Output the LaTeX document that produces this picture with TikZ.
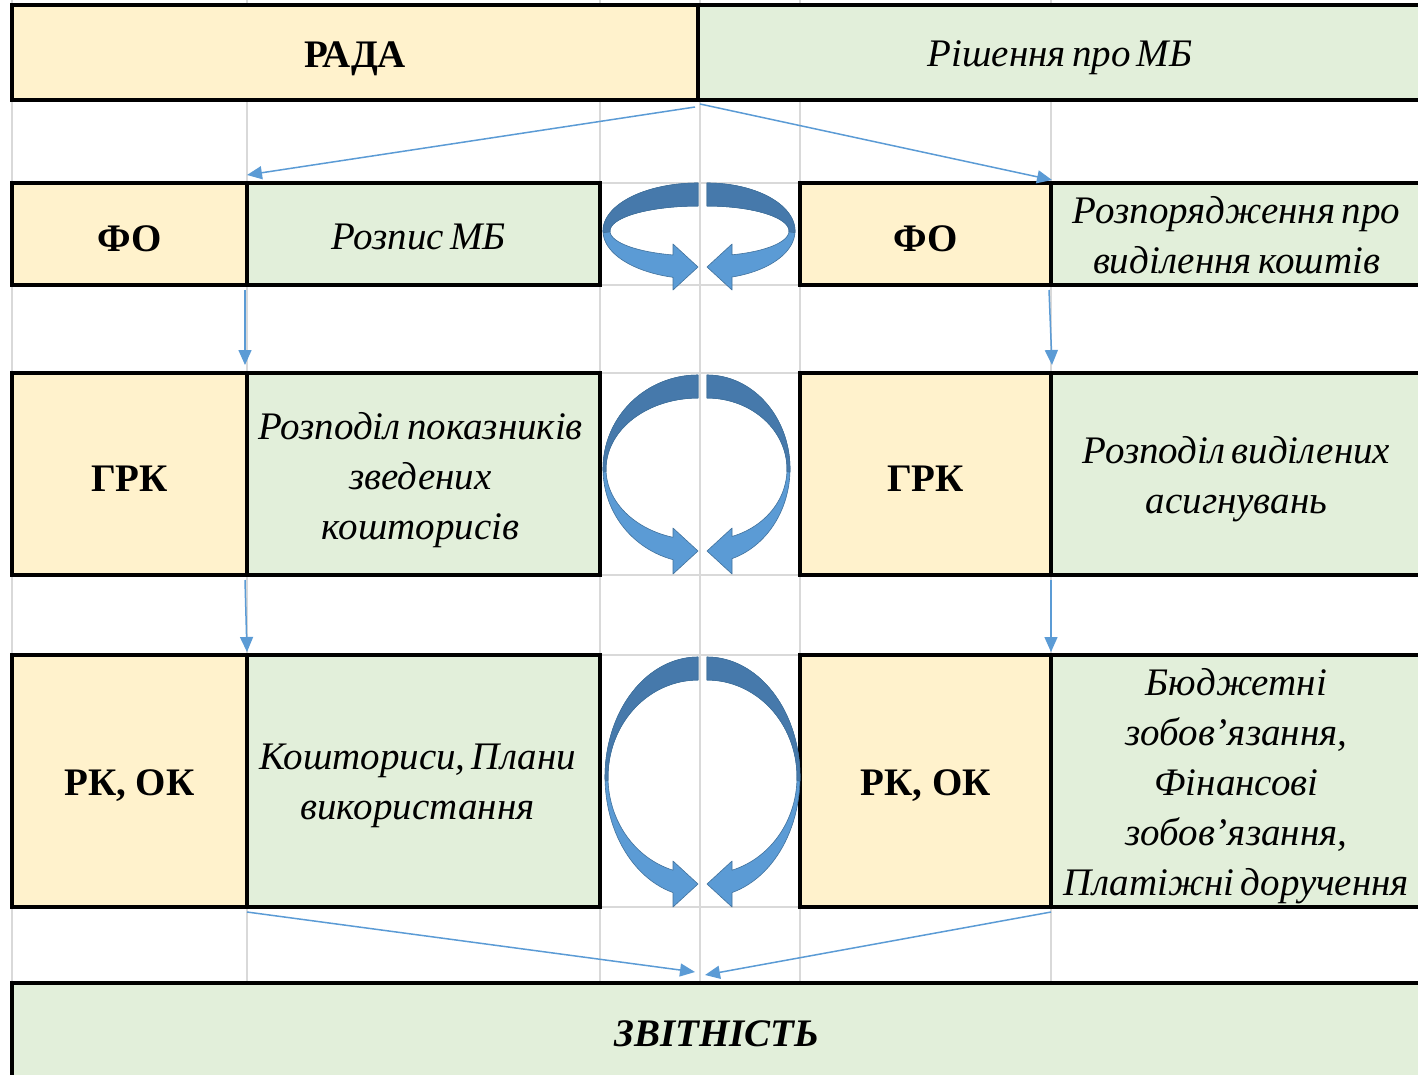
\documentclass[tikz,border=0pt]{standalone}
\usepackage{fontspec}
\setmainfont{Liberation Serif}
\usetikzlibrary{arrows.meta,calc}
\definecolor{cellY}{HTML}{FFF2CC}
\definecolor{cellG}{HTML}{E2EFDA}
\definecolor{connblue}{HTML}{5B9BD5}
\definecolor{gridc}{HTML}{D9D9D9}
\definecolor{arrlight}{HTML}{5B9BD5}
\definecolor{arrdark}{HTML}{4679AB}
\definecolor{arredge}{HTML}{41719C}
\newcommand\tightsp{\spaceskip 0.16em plus 0.05em\relax}
\newcommand\ringarrow[6]{%
 \pgfmathsetmacro\RAo{180+acos(25/#2)}%
 \pgfmathsetmacro\RAi{180+acos(25/#4)}%
 \filldraw[fill=arrlight, draw=arredge, line width=0.6pt, line join=round]
   plot[domain=90:\RAo, samples=60, variable=\t] ({698+#2*cos(\t)},{#1-#3*sin(\t)})
   -- (673,{#6+23}) -- (698,#6) -- (673,{#6-23})
   -- plot[domain=\RAi:90, samples=60, variable=\t] ({698+#4*cos(\t)},{#1-#5*sin(\t)}) -- cycle;
 \filldraw[fill=arrdark, draw=arredge, line width=0.6pt, line join=round]
   plot[domain=90:182, samples=40, variable=\t] ({698+#2*cos(\t)},{#1-#3*sin(\t)})
   -- plot[domain=182:90, samples=40, variable=\t] ({698+#4*cos(\t)},{#1-#5*sin(\t)}) -- cycle;
}
\begin{document}
\begin{tikzpicture}[x=1pt,y=-1pt,
  cell/.style={draw=black, line width=4pt, inner sep=0pt, outer sep=0pt, anchor=north west},
  ycell/.style={cell, fill=cellY},
  gcell/.style={cell, fill=cellG},
  txt/.style={inner sep=0pt, align=center},
  btxt/.style={txt, font=\fontsize{39}{50}\selectfont\bfseries},
  itxt/.style={txt, font=\fontsize{39}{50}\selectfont\itshape\tightsp},
  ztxt/.style={txt, font=\fontsize{39}{50}\selectfont\bfseries\itshape},
  connarrow/.style={draw=connblue, line width=1.5pt, -{Triangle[length=15pt,width=13pt]}},
  gridline/.style={draw=gridc, line width=2pt},
]
\useasboundingbox (0,0) rectangle (1418,1074);
\clip (0,0) rectangle (1418,1074);

% background grid
\foreach \x in {12,247,600,700,800,1051} \draw[gridline] (\x,0) -- (\x,1074);
\foreach \y in {100,183,285,373,575,655,907,983} \draw[gridline] (12,\y) -- (1418,\y);

% cells
\node[ycell, minimum width=686pt, minimum height=95pt] (rada) at (12,5) {};
\node[gcell, minimum width=724pt, minimum height=95pt] (rish) at (698,5) {};
\node[ycell, minimum width=235pt, minimum height=102pt] (fo1) at (12,183) {};
\node[gcell, minimum width=353pt, minimum height=102pt] (rozpys) at (247,183) {};
\node[ycell, minimum width=251pt, minimum height=102pt] (fo2) at (800,183) {};
\node[gcell, minimum width=371pt, minimum height=102pt] (rozp) at (1051,183) {};
\node[ycell, minimum width=235pt, minimum height=202pt] (grk1) at (12,373) {};
\node[gcell, minimum width=353pt, minimum height=202pt] (rpk) at (247,373) {};
\node[ycell, minimum width=251pt, minimum height=202pt] (grk2) at (800,373) {};
\node[gcell, minimum width=371pt, minimum height=202pt] (rva) at (1051,373) {};
\node[ycell, minimum width=235pt, minimum height=252pt] (rk1) at (12,655) {};
\node[gcell, minimum width=353pt, minimum height=252pt] (kpv) at (247,655) {};
\node[ycell, minimum width=251pt, minimum height=252pt] (rk2) at (800,655) {};
\node[gcell, minimum width=371pt, minimum height=252pt] (bzo) at (1051,655) {};
\node[gcell, minimum width=1410pt, minimum height=96pt] (zvit) at (12,983) {};

% cell texts
\node[btxt] (rada-t) at ($(rada.center)+(0,6)$) {РАДА};
\node[itxt] (rish-t) at ($(rish.center)+(0,5)$) {Рішення про МБ};
\node[btxt] (fo1-t) at ($(fo1.center)+(0,5)$) {ФО};
\node[itxt] (rozpys-t) at ($(rozpys.center)+(-5,3)$) {Розпис МБ};
\node[btxt] (fo2-t) at ($(fo2.center)+(0,5)$) {ФО};
\node[itxt] (rozp-t) at ($(rozp.center)+(0,1)$) {Розпорядження про\\виділення коштів};
\node[btxt] (grk1-t) at ($(grk1.center)+(0,5)$) {ГРК};
\node[itxt] (rpk-t) at ($(rpk.center)+(-3,6)$) {Розподіл показників\\зведених\\кошторисів};
\node[btxt] (grk2-t) at ($(grk2.center)+(0,5)$) {ГРК};
\node[itxt] (rva-t) at ($(rva.center)+(0,5)$) {Розподіл виділених\\асигнувань};
\node[btxt] (rk1-t) at ($(rk1.center)+(0,5)$) {РК, ОК};
\node[itxt] (kpv-t) at ($(kpv.center)+(-6,5)$) {Кошториси, Плани\\використання};
\node[btxt] (rk2-t) at ($(rk2.center)+(0,5)$) {РК, ОК};
\node[itxt] (bzo-t) at ($(bzo.center)+(0,5)$) {Бюджетні\\зобов’язання,\\Фінансові\\зобов’язання,\\Платіжні доручення};
\node[ztxt] (zvit-t) at ($(zvit.center)+(0,3)$) {ЗВІТНІСТЬ};

% circular block arrows
\ringarrow{231}{95}{48}{88}{25}{267}
\ringarrow{469}{95}{94}{92}{71}{551}
\ringarrow{777}{93}{120}{90}{97}{884}
\begin{scope}[xshift=1405pt, xscale=-1]
\ringarrow{231}{88}{48}{82}{25}{267}
\ringarrow{469}{83}{94}{80}{71}{551}
\ringarrow{777}{93}{120}{90}{97}{884}
\end{scope}

% connectors
\draw[connarrow] ($(rada.south east)+(-3,7)$) -- ($(fo1.north east)+(0,-8)$);
\draw[connarrow] ($(rish.south west)+(2,4)$) -- ($(rozp.north west)+(1,-3)$);
\draw[connarrow] ($(fo1.south east)+(-2,5)$) -- ($(grk1.north east)+(-2,-8)$);
\draw[connarrow] ($(rozp.south west)+(-2,5)$) -- ($(rva.north west)+(1,-8)$);
\draw[connarrow] ($(grk1.south east)+(-2,5)$) -- ($(kpv.north west)+(0,-3)$);
\draw[connarrow] ($(rva.south west)+(0,5)$) -- ($(bzo.north west)+(0,-3)$);
\draw[connarrow] ($(rk1.south east)+(0,5)$) -- ($(zvit.north)+(-22,-11)$);
\draw[connarrow] ($(bzo.south west)+(0,5)$) -- ($(zvit.north)+(-12,-8)$);
\end{tikzpicture}
\end{document}
